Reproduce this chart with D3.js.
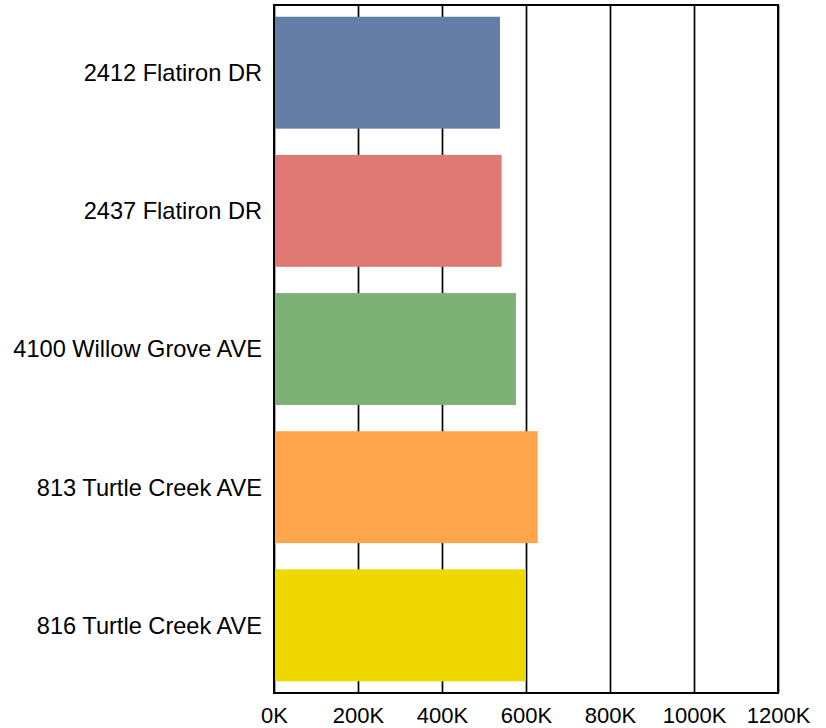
<!DOCTYPE html>
<html>
<head>
<meta charset="utf-8">
<script src="https://cdn.jsdelivr.net/npm/d3@7"></script>
<style>
  html, body { margin: 0; padding: 0; background: #ffffff; }
  svg { display: block; }
  text { font-family: "Liberation Sans", Arial, sans-serif; fill: #000; }
</style>
</head>
<body>
<svg id="chart" width="826" height="728"></svg>
<script>
// Property addresses and their values (USD)
const addresses = [
  "2412 Flatiron DR",
  "2437 Flatiron DR",
  "4100 Willow Grove AVE",
  "813 Turtle Creek AVE",
  "816 Turtle Creek AVE"
];
const values = [538000, 542000, 576000, 628000, 600000];
const barColors = ["#647ea6", "#e07973", "#7db276", "#ffa64c", "#eed800"];
const tickValues = [0, 200000, 400000, 600000, 800000, 1000000, 1200000];

const rows = addresses.map((a, i) => ({ address: a, value: values[i], color: barColors[i] }));

const svg = d3.select("#chart");
const margin = { top: 5, right: 48, bottom: 35, left: 274 };
const width = 826 - margin.left - margin.right;
const height = 728 - margin.top - margin.bottom;

const g = svg.append("g").attr("transform", `translate(${margin.left},${margin.top})`);

const x = d3.scaleLinear().domain([0, 1200000]).range([0, width]);
const y = d3.scaleBand()
  .domain(addresses)
  .range([0, height])
  .paddingInner(0.19)
  .paddingOuter(0.085);

// Vertical gridlines and bottom tick labels
const xAxis = g.append("g")
  .attr("transform", `translate(0,${height})`)
  .call(d3.axisBottom(x)
    .tickValues(tickValues)
    .tickSize(-height)
    .tickPadding(14)
    .tickFormat(d => (d / 1000) + "K"));
xAxis.select(".domain").remove();
xAxis.selectAll(".tick line")
  .attr("stroke", "#000")
  .attr("stroke-width", 1.7);
xAxis.selectAll(".tick text")
  .style("font-size", "22px")
  .style("font-family", "'Liberation Sans', Arial, sans-serif")
  .attr("fill", "#000");

// Bars
g.selectAll("rect.bar")
  .data(rows)
  .join("rect")
  .attr("class", "bar")
  .attr("x", x(0))
  .attr("y", d => y(d.address))
  .attr("width", d => x(d.value) - x(0))
  .attr("height", y.bandwidth())
  .attr("fill", d => d.color);

// Category labels
g.selectAll("text.cat")
  .data(rows)
  .join("text")
  .attr("class", "cat")
  .attr("x", -12)
  .attr("y", d => y(d.address) + y.bandwidth() / 2)
  .attr("dy", "0.36em")
  .attr("text-anchor", "end")
  .style("font-size", "23.6px")
  .text(d => d.address);

// Plot frame
g.append("rect")
  .attr("x", 0)
  .attr("y", 0)
  .attr("width", width)
  .attr("height", height)
  .attr("fill", "none")
  .attr("stroke", "#000")
  .attr("stroke-width", 2);
</script>
</body>
</html>
